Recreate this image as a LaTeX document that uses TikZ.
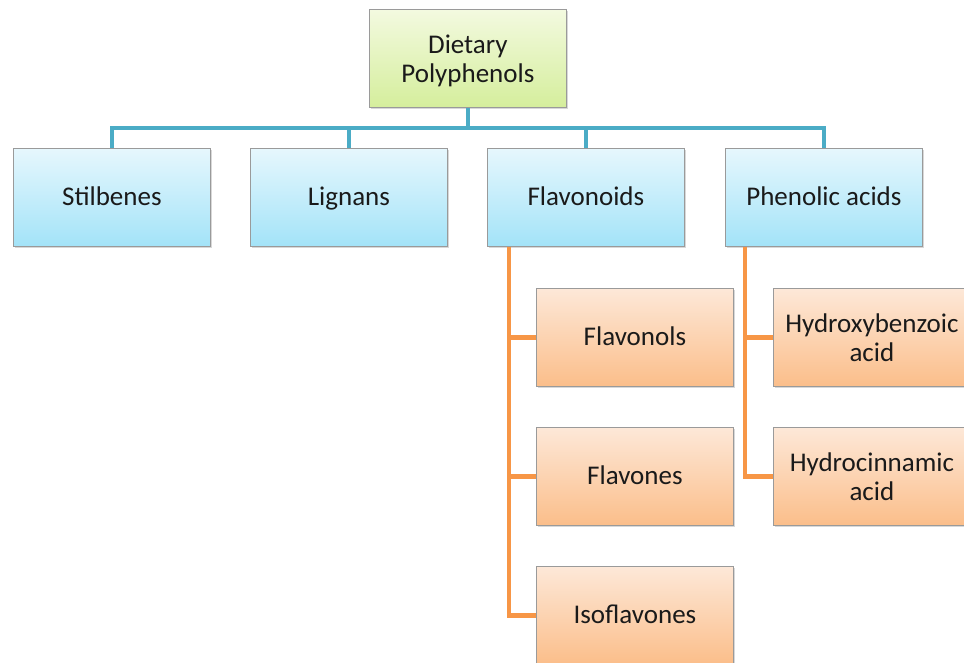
\documentclass[tikz,border=0pt]{standalone}
\usepackage{fontspec}
\setmainfont{Carlito}
\usetikzlibrary{shadows}
\definecolor{bluetop}{HTML}{E6F7FD}
\definecolor{bluebot}{HTML}{A3E3F8}
\definecolor{orgtop}{HTML}{FDE8D8}
\definecolor{orgbot}{HTML}{FBBE8A}
\definecolor{grntop}{HTML}{F3FAE0}
\definecolor{grnbot}{HTML}{D5EE9C}
\definecolor{bluel}{HTML}{4BACC6}
\definecolor{orgl}{HTML}{F79646}
\definecolor{boxborder}{HTML}{9A9A9A}
\definecolor{txt}{HTML}{1A1A1A}
\newcommand\onestrut{\rule[-5pt]{0pt}{27pt}}
\newcommand\topstrut{\rule{0pt}{24pt}}
\newcommand\botstrut{\rule[-5pt]{0pt}{5pt}}
\tikzset{
  box/.style={draw=boxborder, line width=0.8pt, minimum width=197pt, minimum height=98pt,
    anchor=north west, align=center, text=txt, font=\fontsize{27}{29}\selectfont,
    inner sep=0pt,
    drop shadow={opacity=0.3, shadow xshift=1.5pt, shadow yshift=-2pt}},
  bluebox/.style={box, top color=bluetop, bottom color=bluebot},
  orgbox/.style={box, top color=orgtop, bottom color=orgbot},
  grnbox/.style={box, top color=grntop, bottom color=grnbot},
  bline/.style={draw=bluel, line width=4.5pt},
  oline/.style={draw=orgl, line width=4.5pt}
}
\begin{document}
\begin{tikzpicture}[x=1pt,y=-1pt]
\useasboundingbox (0,0) rectangle (964,662);
\clip (0,0) rectangle (964,662);
\fill[white] (0,0) rectangle (964,662);
\coordinate (bus) at (0,128);
\coordinate (fx) at (509,0);
\coordinate (px) at (745,0);
\path (369,9) node[grnbox] (top) {\topstrut Dietary\\Polyphenols\botstrut};
\path (13,148) node[bluebox] (stil) {\onestrut Stilbenes};
\path (250,148) node[bluebox] (lign) {\onestrut Lignans};
\path (487,148) node[bluebox] (flav) {\onestrut Flavonoids};
\path (725,148) node[bluebox] (phen) {\onestrut Phenolic acids};
\path (536,288) node[orgbox] (fnol) {\onestrut Flavonols};
\path (536,427) node[orgbox] (fone) {\onestrut Flavones};
\path (536,566) node[orgbox] (iso) {\onestrut Isoflavones};
\path (773,288) node[orgbox] (hbz) {\topstrut Hydroxybenzoic\\acid\botstrut};
\path (773,427) node[orgbox] (hcn) {\topstrut Hydrocinnamic\\acid\botstrut};
\draw[bline] (top.south) -- (top.south |- bus);
\draw[bline] (stil.north) -- (stil.north |- bus) -- (phen.north |- bus) -- (phen.north);
\draw[bline] (lign.north) -- (lign.north |- bus);
\draw[bline] (flav.north) -- (flav.north |- bus);
\draw[oline] (flav.south -| fx) |- (iso.west);
\draw[oline] (fnol.west) -- (fnol.west -| fx);
\draw[oline] (fone.west) -- (fone.west -| fx);
\draw[oline] (phen.south -| px) |- (hcn.west);
\draw[oline] (hbz.west) -- (hbz.west -| px);
\end{tikzpicture}
\end{document}
